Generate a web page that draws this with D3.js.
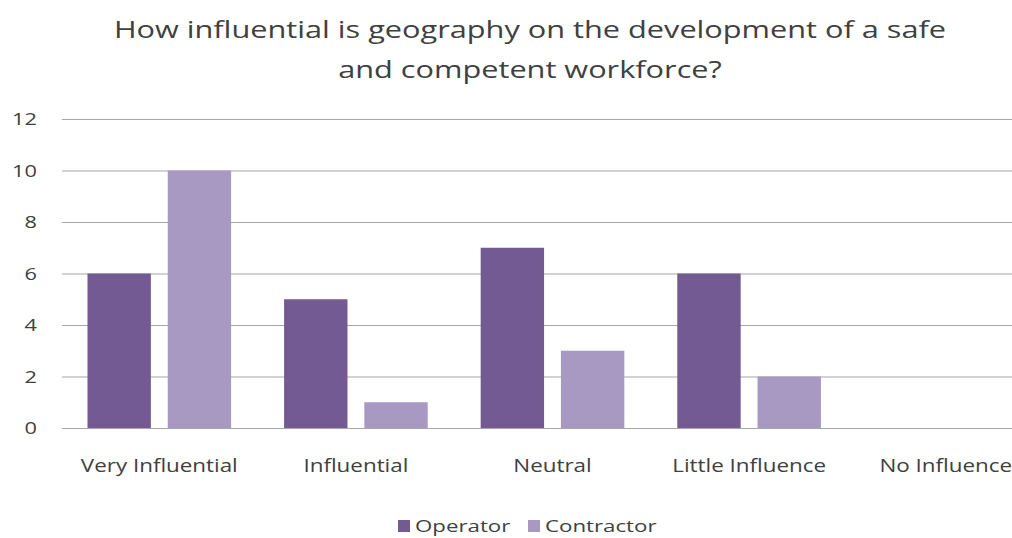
<!DOCTYPE html>
<html>
<head>
<meta charset="utf-8">
<script src="https://cdn.jsdelivr.net/npm/d3@7"></script>
<style>
  html, body { margin: 0; padding: 0; background: #fff; }
  svg { display: block; font-family: "Open Sans", "Noto Sans", sans-serif; }
</style>
</head>
<body>
<svg id="chart" width="1012" height="538"></svg>
<script>
// Survey responses by group
const categories = ["Very Influential", "Influential", "Neutral", "Little Influence", "No Influence"];
const operatorValues = [6, 5, 7, 6, 0];
const contractorValues = [10, 1, 3, 2, 0];
const seriesNames = ["Operator", "Contractor"];
const seriesColors = ["#735a93", "#a899c3"];
const yTicks = [0, 2, 4, 6, 8, 10, 12];
const titleLines = ["How influential is geography on the development of a safe", "and competent workforce?"];

// Text is drawn slightly widened horizontally
const TX = 1.28;
const textColor = "#404040";

const svg = d3.select("#chart");
const plotLeft = 62, plotTop = 119, plotBottom = 428;

const x = d3.scaleBand().domain(categories).range([61, 1044]).paddingInner(0).paddingOuter(0);
const xs = d3.scaleBand().domain(seriesNames).range([0, x.bandwidth()]).paddingInner(0.21).paddingOuter(0.33);
const y = d3.scaleLinear().domain([0, 12]).range([plotBottom, plotTop]);

// Title
svg.append("g").selectAll("text").data(titleLines).join("text")
  .attr("transform", (d, i) => `translate(530,${38 + i * 40}) scale(${TX},1)`)
  .attr("text-anchor", "middle")
  .attr("font-size", 24).attr("fill", textColor)
  .text(d => d);

// Gridlines and y axis labels
const yAxis = d3.axisLeft(y).tickValues(yTicks).tickSize(-(1012 - plotLeft)).tickPadding(0);
const gy = svg.append("g").attr("transform", `translate(${plotLeft},0)`).call(yAxis);
gy.select(".domain").remove();
gy.selectAll(".tick line").attr("stroke", "#a6a6a6").attr("stroke-width", 1.2);
gy.selectAll(".tick text")
  .attr("x", 0).attr("dy", "0.34em")
  .attr("transform", `translate(-25,0) scale(${TX},1)`)
  .attr("font-size", 17).attr("fill", textColor)
  .attr("font-family", "'Open Sans', 'Noto Sans', sans-serif");

// Bars
const data = categories.map((c, i) => ({ cat: c, vals: [operatorValues[i], contractorValues[i]] }));
const groups = svg.append("g").selectAll("g").data(data).join("g")
  .attr("transform", d => `translate(${x(d.cat)},0)`);
groups.selectAll("rect").data(d => d.vals.map((v, j) => ({ v, s: seriesNames[j], j })))
  .join("rect")
  .attr("x", d => xs(d.s))
  .attr("width", xs.bandwidth())
  .attr("y", d => y(d.v))
  .attr("height", d => y(0) - y(d.v))
  .attr("fill", d => seriesColors[d.j]);

// Category labels
const xAxis = d3.axisBottom(x).tickSize(0).tickPadding(0);
const gx = svg.append("g").attr("transform", `translate(0,${plotBottom})`).call(xAxis);
gx.select(".domain").remove();
gx.selectAll(".tick text")
  .attr("y", 0).attr("dy", 0)
  .attr("transform", `translate(0,44) scale(${TX},1)`)
  .attr("font-size", 17.5).attr("fill", textColor)
  .attr("font-family", "'Open Sans', 'Noto Sans', sans-serif");

// Legend
const legendItems = [{ name: seriesNames[0], color: seriesColors[0], x: 398 }, { name: seriesNames[1], color: seriesColors[1], x: 528 }];
const lg = svg.append("g").selectAll("g").data(legendItems).join("g")
  .attr("transform", d => `translate(${d.x},0)`);
lg.append("rect").attr("x", 0).attr("y", 520).attr("width", 12).attr("height", 12).attr("fill", d => d.color);
lg.append("text")
  .attr("transform", `translate(17,532) scale(${TX + 0.03},1)`)
  .attr("font-size", 17).attr("fill", textColor).text(d => d.name);
</script>
</body>
</html>
